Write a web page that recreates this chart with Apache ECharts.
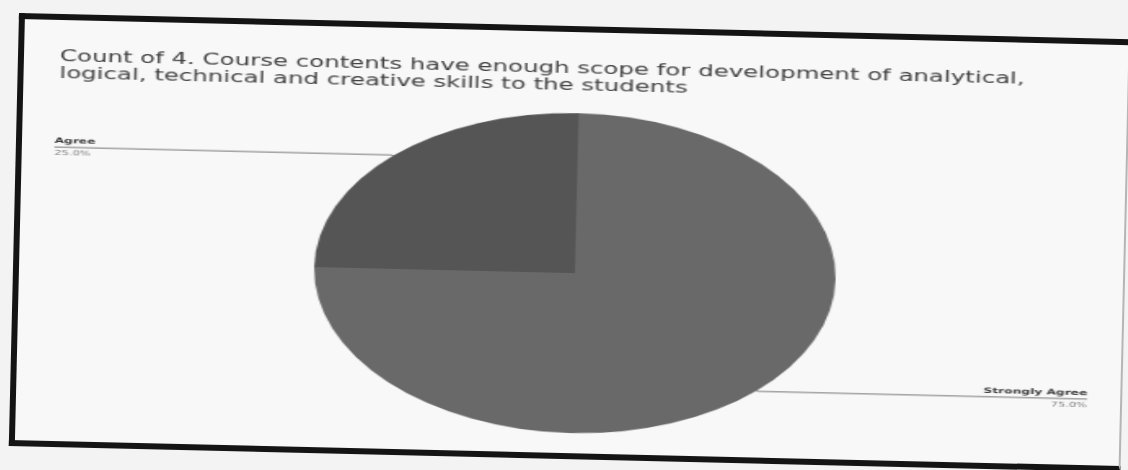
<!DOCTYPE html>
<html>
<head>
<meta charset="utf-8">
<title>Course contents scope</title>
<script src="https://cdn.jsdelivr.net/npm/echarts@6/dist/echarts.min.js"></script>
<style>
    html, body { margin: 0; padding: 0; background: #f3f3f3; overflow: hidden; }
    /* the photographed printout: a bordered box, slightly tilted */
    #frame {
        position: absolute; left: 19px; top: 13px;
        width: 1104px; height: 421px;
        border: 6px solid #141414; border-right: 2px solid #b5b5b5;
        background: #f8f8f8;
        transform: rotate(1.35deg); transform-origin: 0 0;
        overflow: hidden;
    }
    /* the chart itself is stretched sideways in the photo */
    #main {
        position: absolute; left: 0; top: 0;
        width: 677px; height: 421px;
        transform: scaleX(1.63); transform-origin: 0 0;
    }
</style>
</head>
<body>
<div id="frame"><div id="main"></div></div>
<script>
// chart title, as printed on two lines
var titleLines = [
    'Count of 4. Course contents have enough scope for development of analytical,',
    'logical, technical and creative skills to the students'
];
// answers and their share of responses (%)
var categories = ['Strongly Agree', 'Agree'];
var shares = [75, 25];
var sliceColors = ['#696969', '#555555'];

var myChart = echarts.init(document.getElementById('main'));

var pieData = [];
for (var i = 0; i < categories.length; i++) {
    pieData.push({
        name: categories[i],
        value: shares[i],
        itemStyle: { color: sliceColors[i] }
    });
}

myChart.setOption({
    backgroundColor: 'transparent',
    animation: false,
    title: {
        text: titleLines.join('\n'),
        left: 22,
        top: 29,
        padding: 0,
        textStyle: {
            fontFamily: 'DejaVu Sans',
            fontSize: 15,
            lineHeight: 17,
            fontWeight: 'normal',
            color: '#404040'
        }
    },
    series: [{
        type: 'pie',
        center: [341, 241],
        radius: 160,
        startAngle: 90,
        clockwise: true,
        data: pieData,
        label: {
            alignTo: 'edge',
            edgeDistance: 20,
            formatter: function (p) {
                return '{n|' + p.name + '}\n{p|' + p.percent.toFixed(1) + '%}';
            },
            rich: {
                n: { fontFamily: 'DejaVu Sans', fontSize: 7.5, fontWeight: 'bold', color: '#3a3a3a', lineHeight: 12 },
                p: { fontFamily: 'DejaVu Sans', fontSize: 7, color: '#7e7e7e', lineHeight: 12 }
            }
        },
        labelLine: {
            length: 1,
            length2: 10,
            lineStyle: { color: '#777777', width: 1 }
        },
        // stretch the leader line underneath the whole label
        labelLayout: function (params) {
            var isLeft = params.labelRect.x < myChart.getWidth() / 2;
            var points = params.labelLinePoints;
            if (points) {
                points[2][0] = isLeft
                    ? params.labelRect.x
                    : params.labelRect.x + params.labelRect.width;
            }
            return { labelLinePoints: points };
        },
        emphasis: { disabled: true }
    }]
});
</script>
</body>
</html>
